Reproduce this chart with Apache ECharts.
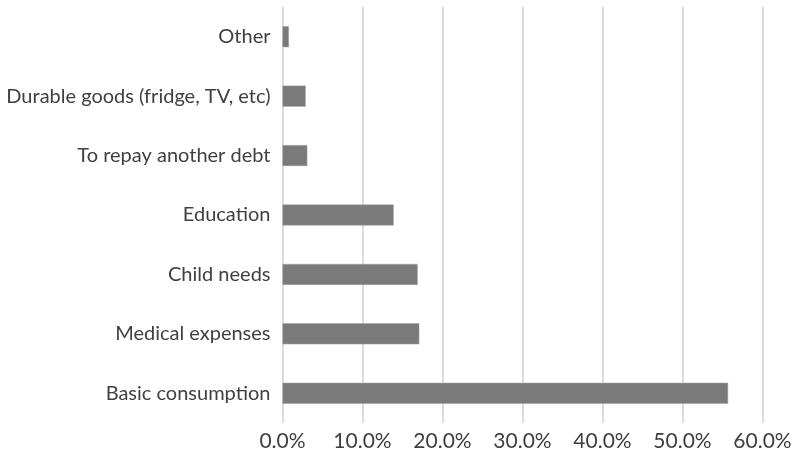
<!DOCTYPE html>
<html>
<head>
    <meta charset="utf-8">
    <title>ECharts</title>
    <script src="https://cdn.jsdelivr.net/npm/echarts@6/dist/echarts.min.js"></script>
</head>
<body style="margin:0">
    <div id="main" style="width: 797px;height:454px;"></div>
    <script type="text/javascript">
        var categories = ['Basic consumption', 'Medical expenses', 'Child needs', 'Education',
            'To repay another debt', 'Durable goods (fridge, TV, etc)', 'Other'];
        var values = [55.7, 17.1, 16.9, 13.9, 3.1, 2.9, 0.8];
        var ticks = [0, 10, 20, 30, 40, 50, 60];

        var myChart = echarts.init(document.getElementById('main'));

        var option = {
            backgroundColor: '#fff',
            textStyle: { fontFamily: 'Lato' },
            grid: { left: 282.5, right: 34.5, top: 7, bottom: 31 },
            xAxis: {
                type: 'value',
                min: ticks[0],
                max: ticks[ticks.length - 1],
                interval: 10,
                axisLine: { show: false },
                axisTick: { show: false },
                splitLine: { lineStyle: { color: '#dcdcdc', width: 2 } },
                axisLabel: {
                    color: '#404040',
                    fontSize: 21,
                    margin: 8,
                    formatter: function (v) { return v.toFixed(1) + '%'; }
                }
            },
            yAxis: {
                type: 'category',
                data: categories,
                axisLine: { show: false },
                axisTick: { show: false },
                axisLabel: { color: '#404040', fontSize: 20, margin: 12 }
            },
            series: [{
                type: 'bar',
                data: values,
                barWidth: 21,
                itemStyle: { color: '#7a7a7a', borderColor: '#a0a0a0', borderWidth: 0.5 }
            }]
        };

        myChart.setOption(option);
    </script>
</body>
</html>
